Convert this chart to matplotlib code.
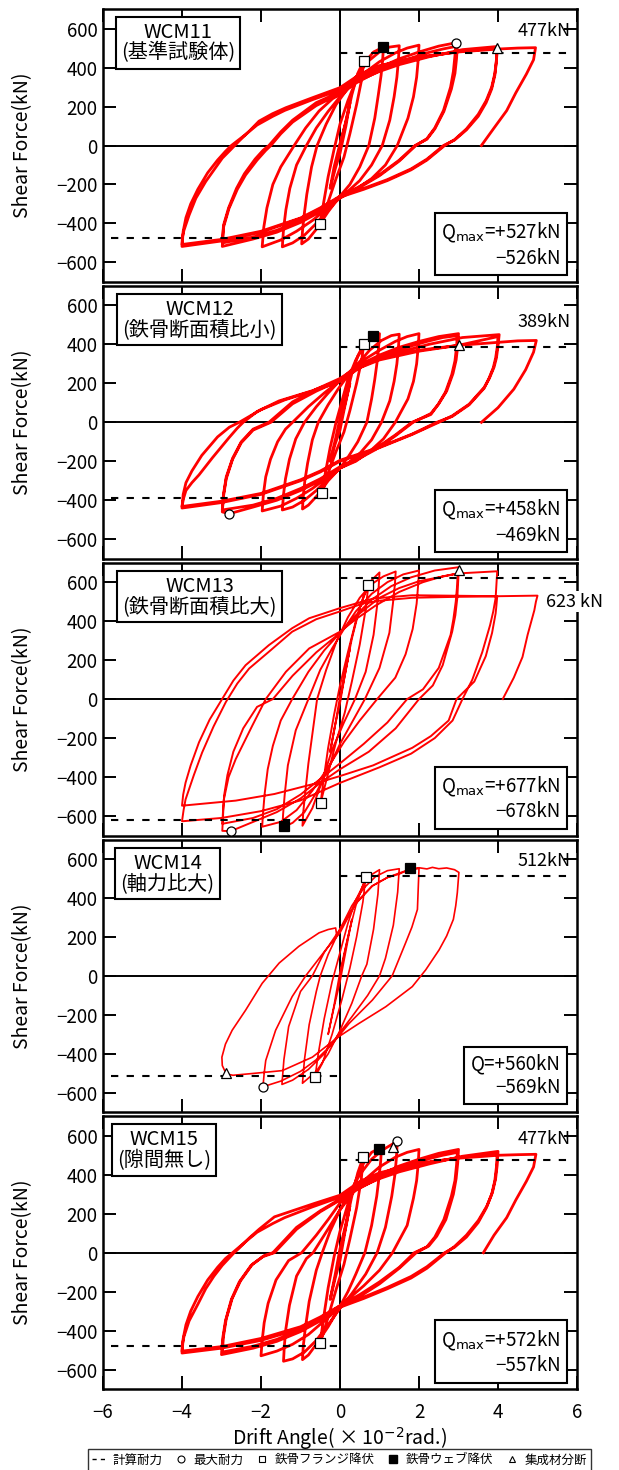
import matplotlib.pyplot as plt
from matplotlib.lines import Line2D

plt.rcParams['font.family'] = ['Noto Sans CJK JP', 'DejaVu Sans']

# Load-drift records, one list of branches per specimen.
# x: drift angle (x10^-2 rad), y: shear force (kN)
wcm11_branches = [
    [(0, 0), (0.12, 100), (0.25, 220)],
    [(0.25, 220), (0.15, 100), (0.0, -40), (-0.12, -120), (-0.25, -220)],
    [(-0.25, -220), (-0.15, -110), (0.0, 10), (0.15, 120), (0.3, 260), (0.45, 370), (0.6, 435)],
    [(0.6, 435), (0.55, 340), (0.42, 210), (0.25, 60), (0.1, -60), (-0.1, -170), (-0.3, -290), (-0.5, -405)],
    [(-0.5, -405), (-0.42, -300), (-0.3, -160), (-0.15, -20), (0.0, 110), (0.2, 230), (0.4, 330),
     (0.6, 420), (0.85, 480), (1.1, 505)],
    [(1.1, 505), (1.08, 440), (1.04, 360), (0.97, 260), (0.88, 140), (0.73, 0), (0.5, -110), (0.25, -200),
     (0.0, -260), (-0.3, -340), (-0.6, -430), (-0.8, -480), (-0.97, -505)],
    [(-0.97, -505), (-0.95, -440), (-0.91, -360), (-0.84, -250), (-0.72, -110), (-0.58, 0), (-0.35, 110),
     (-0.1, 210), (0.15, 280), (0.4, 350), (0.7, 430), (1.0, 480), (1.25, 505), (1.5, 512)],
    [(1.5, 512), (1.48, 440), (1.44, 350), (1.37, 250), (1.26, 130), (1.07, 0), (0.8, -100), (0.5, -180),
     (0.2, -235), (0.0, -265), (-0.3, -330), (-0.6, -400), (-0.9, -460), (-1.2, -500), (-1.46, -520)],
    [(-1.46, -520), (-1.43, -430), (-1.37, -330), (-1.27, -220), (-1.1, -100), (-0.85, 0), (-0.6, 90),
     (-0.3, 175), (0.0, 250), (0.3, 310), (0.6, 370), (1.0, 430), (1.4, 475), (1.7, 500), (2.0, 515)],
    [(2.0, 515), (1.98, 440), (1.94, 350), (1.86, 250), (1.72, 140), (1.45, 0), (1.15, -100), (0.8, -170),
     (0.4, -225), (0.0, -270), (-0.3, -320), (-0.7, -385), (-1.1, -440), (-1.5, -485), (-1.97, -520)],
    [(-1.97, -520), (-1.93, -420), (-1.85, -320), (-1.7, -200), (-1.5, -110), (-1.3, -45), (-1.16, 0),
     (-0.87, 90), (-0.53, 177), (-0.19, 240), (0.0, 262), (0.3, 310), (0.6, 355), (1.0, 400), (1.5, 445),
     (2.0, 480), (2.5, 510), (2.93, 527)],
    [(2.93, 527), (2.91, 460), (2.87, 380), (2.8, 300), (2.62, 180), (2.4, 90), (2.2, 35), (1.92, 0),
     (1.5, -80), (1.0, -155), (0.5, -215), (0.0, -268), (-0.5, -340), (-1.0, -395), (-1.6, -445),
     (-2.2, -480), (-2.98, -518)],
    [(-2.98, -518), (-2.95, -420), (-2.81, -323), (-2.6, -225), (-2.39, -151), (-2.1, -75), (-1.88, -25),
     (-1.75, 0), (-1.5, 60), (-1.2, 120), (-0.6, 205), (0.0, 265), (0.4, 320), (1.0, 385), (1.6, 435),
     (2.2, 475), (2.6, 495), (2.97, 510)],
    [(2.97, 510), (2.95, 445), (2.91, 370), (2.82, 290), (2.63, 175), (2.4, 85), (2.2, 32), (1.9, 0),
     (1.5, -75), (1.0, -150), (0.5, -210), (0.0, -262), (-0.5, -330), (-1.0, -385), (-1.6, -435),
     (-2.2, -470), (-2.98, -500)],
    [(-2.98, -500), (-2.95, -410), (-2.82, -320), (-2.62, -220), (-2.42, -145), (-2.15, -70),
     (-1.95, -25), (-1.8, 0), (-1.5, 70), (-1.2, 130), (-0.6, 220), (0.0, 275), (0.3, 315), (0.6, 345),
     (1.0, 380), (1.5, 415), (2.25, 455), (3.1, 492), (3.98, 508)],
    [(3.98, 508), (3.96, 440), (3.92, 370), (3.84, 300), (3.7, 230), (3.5, 160), (3.2, 85), (2.9, 30),
     (2.65, 0), (2.2, -75), (1.8, -125), (1.2, -180), (0.6, -225), (0.0, -265), (-0.5, -325),
     (-1.0, -375), (-2.0, -445), (-3.0, -490), (-4.0, -518)],
    [(-4.0, -518), (-3.97, -440), (-3.9, -370), (-3.78, -300), (-3.6, -225), (-3.35, -140), (-3.1, -75),
     (-2.9, -30), (-2.75, 0), (-2.4, 55), (-2.1, 105), (-1.7, 150), (-1.4, 180), (-0.7, 235), (0.0, 285),
     (0.5, 355), (1.0, 400), (2.0, 450), (3.0, 482), (3.98, 500)],
    [(3.98, 500), (3.96, 430), (3.92, 360), (3.84, 290), (3.7, 220), (3.5, 150), (3.2, 80), (2.9, 28),
     (2.62, 0), (2.2, -70), (1.8, -120), (1.2, -175), (0.6, -220), (0.0, -260), (-0.5, -320),
     (-1.0, -372), (-2.0, -440), (-3.0, -482), (-4.0, -508)],
    [(-4.0, -508), (-3.99, -470), (-3.95, -435), (-3.82, -357), (-3.65, -271), (-3.4, -185),
     (-3.19, -125), (-2.98, -65), (-2.77, -22), (-2.56, 22), (-2.3, 73), (-2.05, 125), (-1.71, 163),
     (-1.37, 194), (-0.7, 245), (0.0, 297), (0.5, 365), (1.0, 410), (2.0, 455), (3.0, 480), (4.0, 495),
     (4.5, 500), (4.95, 502)],
    [(4.95, 502), (4.9, 440), (4.72, 367), (4.45, 270), (4.22, 179), (3.9, 90), (3.58, 0)],
]

wcm12_branches = [
    [(0, 0), (0.12, 90), (0.25, 200)],
    [(0.25, 200), (0.12, 80), (0.0, -40), (-0.12, -110), (-0.25, -200)],
    [(-0.25, -200), (-0.12, -90), (0.0, 20), (0.15, 130), (0.3, 250), (0.45, 340), (0.6, 400)],
    [(0.6, 400), (0.55, 320), (0.42, 200), (0.25, 60), (0.1, -50), (-0.1, -150), (-0.3, -260), (-0.45, -363)],
    [(-0.45, -363), (-0.38, -270), (-0.25, -130), (-0.1, 0), (0.05, 110), (0.2, 220), (0.4, 320),
     (0.6, 390), (0.84, 441), (1.0, 455)],
    [(1.0, 455), (0.98, 390), (0.94, 310), (0.88, 220), (0.8, 120), (0.68, 0), (0.45, -100), (0.2, -180),
     (0.0, -235), (-0.3, -300), (-0.55, -370), (-0.8, -425), (-0.95, -445)],
    [(-0.95, -445), (-0.93, -380), (-0.89, -300), (-0.82, -210), (-0.7, -90), (-0.55, 0), (-0.3, 90),
     (-0.05, 170), (0.2, 240), (0.45, 300), (0.75, 370), (1.05, 420), (1.3, 445), (1.5, 452)],
    [(1.5, 452), (1.48, 385), (1.44, 300), (1.37, 210), (1.26, 110), (1.05, 0), (0.8, -90), (0.5, -160),
     (0.2, -210), (0.0, -235), (-0.3, -290), (-0.6, -350), (-0.9, -400), (-1.2, -435), (-1.46, -450)],
    [(-1.46, -450), (-1.43, -370), (-1.38, -290), (-1.28, -190), (-1.12, -85), (-0.9, 0), (-0.6, 80),
     (-0.3, 150), (0.0, 215), (0.3, 270), (0.6, 320), (1.0, 370), (1.4, 415), (1.7, 440), (2.0, 455)],
    [(2.0, 455), (1.98, 385), (1.94, 300), (1.86, 210), (1.72, 120), (1.4, 0), (1.1, -85), (0.75, -150),
     (0.4, -200), (0.0, -235), (-0.3, -280), (-0.7, -340), (-1.1, -390), (-1.5, -430), (-1.97, -455)],
    [(-1.97, -455), (-1.94, -370), (-1.88, -280), (-1.76, -190), (-1.58, -100), (-1.38, -35), (-1.2, 0),
     (-0.8, 80), (-0.4, 150), (0.0, 215), (0.3, 265), (0.6, 305), (1.0, 345), (1.5, 385), (2.0, 415),
     (2.5, 440), (3.0, 455)],
    [(3.0, 455), (2.98, 390), (2.94, 320), (2.86, 250), (2.7, 160), (2.5, 95), (2.3, 45), (1.85, 0),
     (1.4, -70), (0.9, -140), (0.4, -195), (0.0, -235), (-0.5, -300), (-1.0, -350), (-1.6, -400),
     (-2.2, -435), (-2.8, -469), (-2.98, -460)],
    [(-2.98, -460), (-2.95, -380), (-2.88, -290), (-2.72, -190), (-2.5, -105), (-2.2, -40), (-1.75, 0),
     (-1.2, 95), (-0.6, 160), (0.0, 215), (0.4, 270), (1.0, 330), (1.6, 380), (2.2, 415), (2.6, 435),
     (2.97, 445)],
    [(2.97, 445), (2.95, 385), (2.91, 315), (2.83, 245), (2.67, 155), (2.48, 90), (2.3, 40), (1.82, 0),
     (1.4, -65), (0.9, -135), (0.4, -190), (0.0, -228), (-0.5, -290), (-1.0, -340), (-1.6, -390),
     (-2.2, -425), (-2.98, -450)],
    [(-2.98, -450), (-2.95, -370), (-2.88, -280), (-2.72, -185), (-2.5, -100), (-2.2, -35), (-1.8, 0),
     (-1.2, 105), (-0.6, 170), (0.0, 225), (0.3, 265), (0.6, 295), (1.0, 325), (1.5, 360), (2.25, 400),
     (3.1, 435), (4.03, 450)],
    [(4.03, 450), (4.0, 390), (3.96, 330), (3.9, 283), (3.78, 225), (3.65, 179), (3.27, 93), (2.84, 33),
     (2.5, 0), (1.83, -62), (0.99, -131), (0.0, -200), (-0.5, -255), (-1.0, -300), (-2.0, -370),
     (-3.0, -412), (-4.0, -440)],
    [(-4.0, -440), (-3.97, -370), (-3.9, -310), (-3.75, -250), (-3.5, -170), (-3.1, -75), (-2.8, -25),
     (-2.55, 0), (-2.0, 65), (-1.4, 115), (-0.7, 160), (0.0, 210), (0.5, 280), (1.0, 320), (2.0, 365),
     (3.0, 395), (4.0, 440)],
    [(4.0, 440), (3.98, 385), (3.94, 330), (3.88, 280), (3.77, 225), (3.65, 175), (3.27, 90), (2.84, 30),
     (2.45, 0), (1.83, -60), (0.99, -128), (0.0, -195), (-0.5, -250), (-1.0, -295), (-2.0, -365),
     (-3.0, -405), (-4.0, -432)],
    [(-4.0, -432), (-3.96, -390), (-3.9, -350), (-3.75, -310), (-3.57, -270), (-3.23, -182), (-2.81, -79),
     (-2.6, -30), (-2.45, 0), (-2.1, 55), (-1.54, 110), (-0.7, 162), (0.0, 215), (0.5, 290), (1.0, 330),
     (2.0, 370), (3.0, 395), (4.0, 410), (4.5, 418), (4.97, 420)],
    [(4.97, 420), (4.9, 360), (4.7, 270), (4.4, 170), (4.0, 75), (3.58, 0)],
]

wcm13_branches = [
    [(0, 0), (0.12, 120), (0.25, 260)],
    [(0.25, 260), (0.12, 120), (0.0, -20), (-0.12, -130), (-0.25, -270)],
    [(-0.25, -270), (-0.12, -130), (0.0, 10), (0.15, 160), (0.3, 310), (0.5, 470), (0.72, 588)],
    [(0.72, 588), (0.65, 460), (0.5, 280), (0.3, 90), (0.12, -70), (-0.1, -220), (-0.3, -380), (-0.49, -532)],
    [(-0.49, -532), (-0.42, -420), (-0.3, -250), (-0.15, -80), (0.0, 70), (0.2, 240), (0.4, 400),
     (0.6, 530), (0.8, 610), (1.0, 650)],
    [(1.0, 650), (0.98, 580), (0.94, 480), (0.85, 330), (0.65, 140), (0.38, 0), (0.1, -120), (-0.2, -260),
     (-0.45, -420), (-0.7, -560), (-0.95, -650)],
    [(-0.95, -650), (-0.93, -580), (-0.88, -480), (-0.8, -330), (-0.68, -150), (-0.58, 0), (-0.35, 150),
     (-0.1, 290), (0.2, 420), (0.5, 520), (0.8, 590), (1.1, 630), (1.41, 655)],
    [(1.41, 655), (1.39, 590), (1.34, 490), (1.25, 340), (1.0, 160), (0.63, 0), (0.3, -120), (0.0, -230),
     (-0.3, -360), (-0.6, -480), (-0.9, -580), (-1.2, -635), (-1.46, -660)],
    [(-1.46, -660), (-1.44, -590), (-1.4, -490), (-1.32, -340), (-1.12, -160), (-0.8, 0), (-0.5, 150),
     (-0.2, 260), (0.1, 360), (0.4, 450), (0.8, 540), (1.2, 600), (1.6, 640), (2.0, 660)],
    [(2.0, 660), (1.98, 590), (1.94, 490), (1.84, 360), (1.66, 230), (1.4, 110), (0.94, 0), (0.5, -110),
     (0.1, -220), (-0.3, -350), (-0.7, -470), (-1.1, -570), (-1.5, -630), (-1.97, -655)],
    [(-1.97, -655), (-1.95, -590), (-1.91, -490), (-1.83, -360), (-1.7, -240), (-1.5, -110), (-1.21, 0),
     (-0.8, 140), (-0.4, 250), (0.0, 340), (0.4, 430), (0.8, 510), (1.3, 580), (1.8, 625), (2.4, 660),
     (3.01, 677)],
    [(3.01, 677), (2.99, 600), (2.97, 519), (2.92, 430), (2.84, 346), (2.6, 174), (2.35, 70), (2.0, 0),
     (1.41, -150), (0.73, -270), (0.0, -360), (-0.5, -430), (-1.0, -510), (-1.6, -580), (-2.2, -630),
     (-2.77, -678), (-2.98, -676)],
    [(-2.98, -676), (-2.96, -600), (-2.94, -515), (-2.82, -400), (-2.64, -308), (-2.22, -136), (-1.88, 0),
     (-1.37, 140), (-0.78, 260), (0.0, 346), (0.4, 410), (0.9, 480), (1.5, 550), (2.1, 600), (2.6, 630),
     (2.98, 645)],
    [(2.98, 645), (2.96, 570), (2.93, 500), (2.87, 410), (2.8, 330), (2.5, 160), (2.1, 50), (1.7, 0),
     (1.2, -120), (0.6, -230), (0.0, -330), (-0.5, -410), (-1.0, -490), (-1.6, -565), (-2.2, -610),
     (-2.98, -640)],
    [(-2.98, -640), (-2.96, -570), (-2.93, -490), (-2.85, -390), (-2.7, -270), (-2.45, -150), (-2.1, -40),
     (-1.7, 0), (-1.2, 120), (-0.6, 240), (0.0, 340), (0.5, 440), (1.0, 520), (1.5, 570), (2.0, 605),
     (3.0, 645), (3.98, 656)],
    [(3.98, 656), (3.96, 590), (3.94, 519), (3.88, 450), (3.8, 380), (3.6, 240), (3.35, 100), (3.1, 0),
     (2.85, -110), (2.4, -200), (1.8, -280), (1.0, -350), (0.0, -430), (-1.0, -520), (-2.0, -575),
     (-3.0, -610), (-4.0, -627)],
    [(-4.0, -627), (-3.96, -570), (-3.91, -515), (-3.8, -450), (-3.7, -390), (-3.49, -274), (-3.2, -140),
     (-2.89, -15), (-2.6, 80), (-2.3, 157), (-1.8, 243), (-1.21, 346), (-0.6, 410), (0.0, 450), (0.57, 490),
     (1.0, 505), (1.83, 520), (3.0, 525), (3.98, 527)],
    [(3.98, 527), (3.96, 480), (3.94, 440), (3.85, 340), (3.69, 220), (3.4, 90), (2.95, 0), (2.75, -110),
     (2.3, -190), (1.83, -250), (0.84, -340), (0.0, -395), (-0.66, -435), (-1.66, -487), (-2.64, -521),
     (-4.0, -547)],
    [(-4.0, -547), (-3.97, -490), (-3.91, -429), (-3.78, -340), (-3.57, -222), (-3.3, -105), (-2.98, 2),
     (-2.7, 95), (-2.39, 174), (-1.8, 277), (-1.21, 364), (-0.78, 415), (0.0, 467), (0.84, 516),
     (1.83, 533), (3.0, 530), (4.0, 528), (5.0, 531)],
    [(5.0, 531), (4.96, 500), (4.92, 456), (4.75, 330), (4.62, 216), (4.4, 110), (4.12, 0)],
]

wcm14_branches = [
    [(0, 0), (0.15, 150), (0.3, 290)],
    [(0.3, 290), (0.15, 130), (0.0, -30), (-0.15, -160), (-0.3, -300)],
    [(-0.3, -300), (-0.15, -150), (0.0, 20), (0.2, 200), (0.4, 360), (0.55, 450), (0.65, 505)],
    [(0.65, 505), (0.58, 380), (0.42, 200), (0.25, 40), (0.05, -120), (-0.2, -300), (-0.45, -450), (-0.63, -517)],
    [(-0.63, -517), (-0.55, -400), (-0.4, -220), (-0.2, -30), (0.0, 120), (0.2, 270), (0.4, 390),
     (0.6, 470), (0.8, 520), (1.0, 545)],
    [(1.0, 545), (0.96, 420), (0.85, 240), (0.68, 60), (0.55, 0), (0.3, -140), (0.0, -280), (-0.3, -400),
     (-0.6, -490), (-0.95, -551)],
    [(-0.95, -551), (-0.9, -430), (-0.78, -250), (-0.6, -80), (-0.5, 0), (-0.3, 110), (0.0, 240),
     (0.3, 360), (0.6, 450), (0.9, 510), (1.2, 540), (1.5, 550)],
    [(1.5, 550), (1.46, 430), (1.35, 260), (1.15, 90), (1.0, 0), (0.7, -100), (0.3, -210), (0.0, -290),
     (-0.4, -400), (-0.8, -480), (-1.2, -535), (-1.47, -557)],
    [(-1.47, -557), (-1.42, -430), (-1.3, -260), (-1.0, -80), (-0.7, 0), (-0.4, 120), (0.0, 240),
     (0.4, 370), (0.82, 462), (1.2, 505), (1.6, 535), (2.0, 552)],
    [(2.0, 552), (1.98, 450), (1.96, 341), (1.82, 250), (1.66, 169), (1.32, 0), (0.82, -124), (0.23, -244),
     (-0.19, -348), (-0.6, -430), (-1.0, -490), (-1.5, -540), (-1.95, -569)],
    [(-1.95, -569), (-1.92, -500), (-1.88, -434), (-1.63, -279), (-1.21, -106), (-0.87, 0), (-0.36, 134),
     (0.0, 221), (0.4, 376), (0.82, 462), (1.2, 505), (1.49, 522), (1.77, 548), (2.0, 555), (2.2, 549),
     (2.34, 557), (2.5, 550), (2.7, 554), (2.9, 545), (3.01, 531)],
    [(3.01, 531), (2.99, 480), (2.97, 427), (2.93, 360), (2.87, 290), (2.7, 205), (2.51, 134), (2.17, 31),
     (1.83, -55), (1.16, -158), (0.48, -244), (-0.04, -313), (-0.7, -417), (-1.46, -486), (-2.22, -501),
     (-2.71, -510), (-2.88, -503), (-2.98, -460), (-2.99, -417)],
    [(-2.99, -417), (-2.9, -350), (-2.73, -279), (-2.39, -176), (-1.97, -38), (-1.54, 66), (-1.04, 152),
     (-0.53, 221), (-0.3, 238), (-0.11, 246), (-0.08, 204)],
]

wcm15_branches = [
    [(0, 0), (0.12, 110), (0.25, 240)],
    [(0.25, 240), (0.12, 100), (0.0, -40), (-0.12, -130), (-0.25, -240)],
    [(-0.25, -240), (-0.12, -110), (0.0, 20), (0.15, 150), (0.3, 290), (0.45, 410), (0.59, 491)],
    [(0.59, 491), (0.54, 380), (0.42, 230), (0.25, 70), (0.1, -60), (-0.1, -190), (-0.3, -330), (-0.5, -464)],
    [(-0.5, -464), (-0.42, -340), (-0.3, -180), (-0.15, -20), (0.0, 110), (0.2, 250), (0.4, 370),
     (0.6, 460), (0.8, 515), (0.98, 534), (1.05, 540)],
    [(1.05, 540), (1.03, 470), (0.99, 390), (0.93, 290), (0.8, 140), (0.63, 0), (0.4, -110), (0.2, -200),
     (0.0, -275), (-0.3, -380), (-0.6, -470), (-0.8, -525), (-0.95, -549)],
    [(-0.95, -549), (-0.93, -480), (-0.88, -390), (-0.78, -250), (-0.6, -90), (-0.45, 0), (-0.25, 110),
     (0.0, 220), (0.25, 310), (0.5, 400), (0.8, 480), (1.1, 530), (1.33, 558), (1.45, 572)],
    [(1.45, 572), (1.43, 490), (1.39, 400), (1.31, 290), (1.15, 130), (0.94, 0), (0.65, -110), (0.3, -210),
     (0.0, -285), (-0.3, -370), (-0.6, -450), (-0.9, -510), (-1.2, -545), (-1.43, -557)],
    [(-1.43, -557), (-1.41, -480), (-1.37, -390), (-1.28, -270), (-1.1, -120), (-0.85, -30), (-0.68, 0),
     (-0.4, 90), (0.0, 220), (0.3, 300), (0.6, 370), (1.0, 440), (1.4, 490), (1.7, 515), (2.0, 530)],
    [(2.0, 530), (1.98, 455), (1.94, 370), (1.86, 280), (1.7, 140), (1.33, 0), (1.0, -90), (0.6, -170),
     (0.2, -240), (0.0, -280), (-0.4, -350), (-0.8, -420), (-1.2, -470), (-1.6, -505), (-2.0, -529)],
    [(-2.0, -529), (-1.97, -450), (-1.92, -360), (-1.82, -260), (-1.62, -140), (-1.3, -40), (-0.97, 0),
     (-0.6, 90), (-0.3, 170), (0.0, 255), (0.3, 310), (0.6, 355), (1.0, 400), (1.5, 445), (2.0, 480),
     (2.5, 510), (3.0, 530)],
    [(3.0, 530), (2.98, 460), (2.94, 380), (2.87, 300), (2.68, 170), (2.45, 85), (2.25, 35), (1.93, 0),
     (1.5, -80), (1.0, -160), (0.5, -225), (0.0, -280), (-0.5, -350), (-1.0, -405), (-1.6, -455),
     (-2.2, -490), (-3.0, -523)],
    [(-3.0, -523), (-2.97, -440), (-2.9, -350), (-2.75, -240), (-2.55, -150), (-2.25, -65), (-1.95, -20),
     (-1.66, 0), (-1.1, 120), (-0.5, 210), (0.0, 270), (0.4, 320), (1.0, 385), (1.6, 440), (2.2, 480),
     (2.6, 500), (2.97, 515)],
    [(2.97, 515), (2.95, 450), (2.91, 370), (2.82, 290), (2.63, 170), (2.4, 80), (2.2, 30), (1.88, 0),
     (1.5, -75), (1.0, -150), (0.5, -215), (0.0, -272), (-0.5, -340), (-1.0, -395), (-1.6, -445),
     (-2.2, -480), (-2.98, -510)],
    [(-2.98, -510), (-2.95, -430), (-2.88, -340), (-2.73, -235), (-2.52, -145), (-2.22, -60), (-1.92, -15),
     (-1.7, 0), (-1.1, 130), (-0.5, 215), (0.0, 275), (0.3, 315), (0.6, 345), (1.0, 380), (1.5, 415),
     (2.25, 455), (3.1, 495), (4.0, 520)],
    [(4.0, 520), (3.98, 450), (3.94, 380), (3.86, 310), (3.72, 240), (3.5, 165), (3.2, 90), (2.9, 32),
     (2.68, 0), (2.2, -80), (1.8, -130), (1.2, -185), (0.6, -235), (0.0, -280), (-0.5, -340),
     (-1.0, -390), (-2.0, -450), (-3.0, -490), (-4.0, -515)],
    [(-4.0, -515), (-3.97, -440), (-3.9, -370), (-3.78, -300), (-3.6, -225), (-3.35, -140), (-3.1, -75),
     (-2.9, -30), (-2.72, 0), (-2.4, 55), (-2.1, 105), (-1.7, 150), (-1.4, 180), (-0.7, 235), (0.0, 285),
     (0.5, 355), (1.0, 400), (2.0, 455), (3.0, 488), (3.98, 510)],
    [(3.98, 510), (3.96, 440), (3.92, 370), (3.84, 300), (3.7, 228), (3.5, 155), (3.2, 80), (2.9, 28),
     (2.65, 0), (2.2, -72), (1.8, -122), (1.2, -178), (0.6, -228), (0.0, -272), (-0.5, -330),
     (-1.0, -380), (-2.0, -440), (-3.0, -482), (-4.0, -505)],
    [(-4.0, -505), (-3.99, -470), (-3.95, -430), (-3.82, -350), (-3.6, -265), (-3.4, -185),
     (-3.19, -120), (-2.98, -65), (-2.68, 0), (-2.56, 22), (-2.3, 75), (-2.05, 120), (-1.66, 184),
     (-0.66, 252), (0.0, 295), (0.5, 365), (1.0, 410), (2.0, 460), (3.0, 485), (4.0, 500), (4.5, 503),
     (4.96, 505)],
    [(4.96, 505), (4.9, 440), (4.72, 367), (4.45, 270), (4.22, 180), (3.9, 90), (3.63, 0)],
]

specimens = ['WCM11', 'WCM12', 'WCM13', 'WCM14', 'WCM15']
subtitles = ['(基準試験体)', '(鉄骨断面積比小)', '(鉄骨断面積比大)', '(軸力比大)', '(隙間無し)']
branches = [wcm11_branches, wcm12_branches, wcm13_branches, wcm14_branches, wcm15_branches]
calc_capacity = [477, 389, 623, 512, 477]
capacity_text = ['477kN', '389kN', '623 kN', '512kN', '477kN']
q_labels = ['Q$_{\\rm max}$', 'Q$_{\\rm max}$', 'Q$_{\\rm max}$', 'Q', 'Q$_{\\rm max}$']
q_pos = [527, 458, 677, 560, 572]
q_neg = [526, 469, 678, 569, 557]

# event markers (x, y) for each specimen
max_strength = [[(2.93, 527)], [(-2.81, -469)], [(-2.77, -678)], [(-1.95, -569)], [(1.45, 572)]]
flange_yield = [[(0.6, 435), (-0.5, -405)], [(0.61, 400), (-0.45, -363)], [(0.72, 588), (-0.49, -532)],
                [(0.65, 505), (-0.63, -517)], [(0.59, 491), (-0.5, -464)]]
web_yield = [[(1.1, 505)], [(0.84, 441)], [(-1.41, -653)], [(1.77, 553)], [(0.98, 534)]]
glulam_split = [[(3.98, 500)], [(3.0, 395)], [(3.01, 662)], [(-2.88, -500)], [(1.33, 545)]]

# per-panel placement of the capacity note (y) and box centre (x, axes fraction)
note_y = [590, 514, 500, 589, 582]
box_x = [0.158, 0.204, 0.204, 0.136, 0.129]
line_w = [2.0, 2.0, 1.4, 1.2, 2.0]

fig = plt.figure(figsize=(6.19, 14.70), dpi=100)
H = 1470.0
axes = []
for i in range(5):
    centre = 145.5 + 276.8 * i
    ax = fig.add_axes([103 / 619, 1 - (centre + 136.4) / H, 474 / 619, 272.8 / H])
    axes.append(ax)

    xs = [p[0] for br in branches[i] for p in br]
    ys = [p[1] for br in branches[i] for p in br]
    ax.plot(xs, ys, color='#ff0000', lw=line_w[i], solid_joinstyle='round', zorder=3)

    ax.axhline(0, color='black', lw=1.4, zorder=2)
    ax.axvline(0, color='black', lw=1.4, zorder=2)
    cap = calc_capacity[i]
    ax.plot([0, 5.85], [cap, cap], color='black', lw=1.5, ls=(0, (3.5, 4)), zorder=4)
    ax.plot([-5.8, 0], [-cap, -cap], color='black', lw=1.5, ls=(0, (3.5, 4)), zorder=4)

    mk = dict(ls='none', mec='black', mew=0.9, zorder=6)
    ax.plot(*zip(*max_strength[i]), marker='o', ms=6.5, mfc='white', **mk)
    ax.plot(*zip(*flange_yield[i]), marker='s', ms=6.5, mfc='white', **mk)
    ax.plot(*zip(*web_yield[i]), marker='s', ms=7, mfc='black', **mk)
    ax.plot(*zip(*glulam_split[i]), marker='^', ms=6.5, mfc='white', **mk)

    ax.set_xlim(-6, 6)
    ax.set_ylim(-700, 700)
    ax.set_xticks(range(-6, 7, 2))
    ax.set_yticks(range(-600, 601, 200))
    ax.tick_params(direction='in', length=9.5, width=1.4, top=True, right=True, labelsize=13.5)
    ax.tick_params(axis='y', pad=4)
    ax.tick_params(axis='x', pad=9)
    if i < 4:
        ax.tick_params(labelbottom=False)
    for sp in ax.spines.values():
        sp.set_linewidth(1.8)
    ax.set_ylabel('Shear Force(kN)', fontsize=14)
    ax.yaxis.set_label_coords(-0.148, 0.5)

    ax.text(box_x[i], 0.876, specimens[i] + '\n' + subtitles[i], transform=ax.transAxes,
            ha='center', va='center', fontsize=14.5, linespacing=0.95, zorder=7,
            bbox=dict(boxstyle='square,pad=0.25', fc='white', ec='black', lw=1.5))

    if i == 2:
        ax.text(5.22, note_y[i], capacity_text[i], ha='left', va='center', fontsize=13, zorder=8,
                clip_on=False, bbox=dict(boxstyle='square,pad=0.1', fc='white', ec='none'))
    else:
        ax.text(5.85, note_y[i], capacity_text[i], ha='right', va='center', fontsize=13, zorder=8)

    ax.text(0.965, 0.135, q_labels[i] + '=+%dkN\n\u2212%dkN' % (q_pos[i], q_neg[i]),
            transform=ax.transAxes, ha='right', va='center', multialignment='right',
            fontsize=13.5, linespacing=1.15, zorder=7,
            bbox=dict(boxstyle='square,pad=0.35', fc='white', ec='black', lw=1.5))

axes[-1].set_xlabel('Drift Angle( × 10$^{-2}$rad.)', fontsize=14, labelpad=2)

handles = [
    Line2D([], [], color='black', ls=(0, (3, 3)), lw=1.0),
    Line2D([], [], ls='none', marker='o', ms=5, mfc='white', mec='black', mew=0.8),
    Line2D([], [], ls='none', marker='s', ms=5, mfc='white', mec='black', mew=0.8),
    Line2D([], [], ls='none', marker='s', ms=5.5, mfc='black', mec='black'),
    Line2D([], [], ls='none', marker='^', ms=5, mfc='white', mec='black', mew=0.8),
]
labels = ['計算耐力', '最大耐力', '鉄骨フランジ降伏', '鉄骨ウェブ降伏', '集成材分断']
leg = fig.legend(handles, labels, loc='upper center', bbox_to_anchor=(0.5485, 1 - 1449 / H),
                 ncol=5, fontsize=9, frameon=True, fancybox=False, edgecolor='black',
                 handlelength=1.2, handletextpad=0.4, columnspacing=0.9, borderpad=0.35,
                 borderaxespad=0)
leg.get_frame().set_linewidth(1.0)

fig.savefig('out.png', dpi=100)
